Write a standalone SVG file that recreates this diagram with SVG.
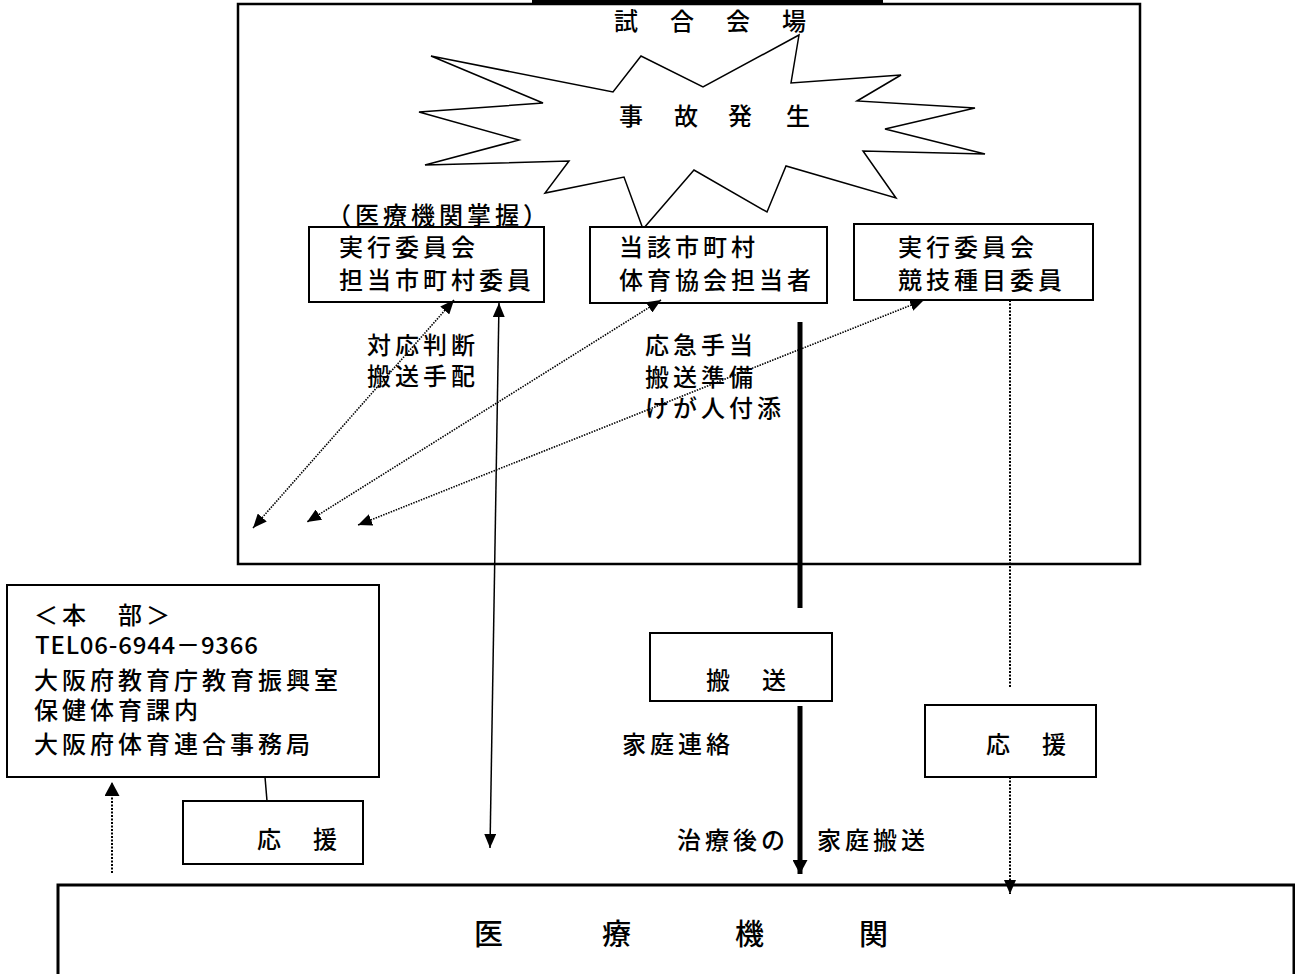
<svg xmlns="http://www.w3.org/2000/svg" width="1295" height="974" viewBox="0 0 1295 974">
<style>
.t{font-family:"Noto Sans CJK JP","Noto Sans",sans-serif;font-size:24px;font-weight:500;letter-spacing:4px;fill:#000}
.t0{font-family:"Noto Sans CJK JP","Noto Sans",sans-serif;font-size:24px;font-weight:500;fill:#000}
.box{fill:#fff;stroke:#000;stroke-width:2}
.dot{fill:none;stroke:#000;stroke-width:1.6;stroke-dasharray:1.5 1.2}
.dotv{fill:none;stroke:#000;stroke-width:2;stroke-dasharray:2 1.5}
</style>
<defs>
<marker id="ah" viewBox="0 0 14 12" refX="14" refY="6" markerWidth="14" markerHeight="12" markerUnits="userSpaceOnUse" orient="auto-start-reverse">
<path d="M0,0 L14,6 L0,12 z" fill="#000"/>
</marker>
<marker id="ahb" viewBox="0 0 14 15" refX="14" refY="7.5" markerWidth="14" markerHeight="15" markerUnits="userSpaceOnUse" orient="auto">
<path d="M0,0 L14,7.5 L0,15 z" fill="#000"/>
</marker>
</defs>
<rect width="1295" height="974" fill="#fff"/>

<g id="venue">
<rect x="238" y="4" width="902" height="560" fill="none" stroke="#000" stroke-width="2.5"/>
<rect x="532" y="0" width="351" height="4" fill="#000"/>
<text class="t0" x="614 670 726 782" y="30">試合会場</text>
</g>

<g id="accident">
<polygon points="799,35 791,83 901,75 857,101 975,108 885,129 985,154 863,151 896,198 786,166 767,212 694,170 643,229 624,177 545,193 569,161 425,165 519,140 419,112 543,103 431,56 613,92 641,56 703,87" fill="#fff" stroke="#000" stroke-width="1.5" stroke-linejoin="miter"/>
<text class="t0" x="619 674 728 786" y="125">事故発生</text>
</g>

<g id="committee-city">
<text class="t" x="327" y="224">（医療機関掌握）</text>
<rect class="box" x="309" y="227" width="235" height="75"/>
<text class="t" x="339" y="256">実行委員会</text>
<text class="t" x="339" y="289">担当市町村委員</text>
</g>

<g id="city-association">
<rect class="box" x="590" y="227" width="237" height="76"/>
<text class="t" x="619" y="256">当該市町村</text>
<text class="t" x="619" y="289">体育協会担当者</text>
</g>

<g id="committee-sport">
<rect class="box" x="854" y="224" width="239" height="76"/>
<text class="t" x="898" y="256">実行委員会</text>
<text class="t" x="898" y="289">競技種目委員</text>
</g>

<g id="labels">
<text class="t" x="367" y="354">対応判断</text>
<text class="t" x="367" y="385">搬送手配</text>
<text class="t" x="645" y="354">応急手当</text>
<text class="t" x="645" y="386">搬送準備</text>
<text class="t" x="645" y="417">けが人付添</text>
<text class="t" x="622" y="753">家庭連絡</text>
<text class="t" x="677" y="849">治療後の</text>
<text class="t" x="817" y="849">家庭搬送</text>
</g>

<g id="headquarters">
<rect class="box" x="7" y="585" width="372" height="192"/>
<text class="t" x="34" y="624">＜本　部＞</text>
<text class="t0" x="35" y="654" textLength="223" lengthAdjust="spacing">TEL06-6944－9366</text>
<text class="t" x="34" y="689">大阪府教育庁教育振興室</text>
<text class="t" x="34" y="719">保健体育課内</text>
<text class="t" x="34" y="753">大阪府体育連合事務局</text>
</g>

<g id="support-left">
<rect class="box" x="183" y="801" width="180" height="63"/>
<text class="t" x="257" y="848">応　援</text>
</g>

<g id="transport">
<rect class="box" x="650" y="633" width="182" height="68"/>
<text class="t" x="706" y="689">搬　送</text>
</g>

<g id="support-right">
<rect class="box" x="925" y="705" width="171" height="72"/>
<text class="t" x="986" y="753">応　援</text>
</g>

<g id="hospital">
<rect x="58" y="885" width="1236" height="120" fill="#fff" stroke="#000" stroke-width="3"/>
<text font-family="Noto Sans CJK JP, sans-serif" font-weight="500" font-size="29" x="474 602 735 859" y="945">医療機関</text>
</g>

<g id="connectors">
<line class="dot" x1="454" y1="300" x2="253" y2="528" marker-start="url(#ah)" marker-end="url(#ah)"/>
<line class="dot" x1="661" y1="300" x2="307" y2="522" marker-start="url(#ah)" marker-end="url(#ah)"/>
<line class="dot" x1="924" y1="300" x2="358" y2="525" marker-start="url(#ah)" marker-end="url(#ah)"/>
<line x1="499" y1="303" x2="490" y2="848" stroke="#000" stroke-width="1.5" marker-start="url(#ah)" marker-end="url(#ah)"/>
<line x1="800" y1="322" x2="800" y2="608" stroke="#000" stroke-width="5"/>
<line x1="800" y1="706" x2="800" y2="874" stroke="#000" stroke-width="5" marker-end="url(#ahb)"/>
<line class="dotv" x1="1010" y1="300" x2="1010" y2="688"/>
<line class="dotv" x1="1010" y1="777" x2="1010" y2="894" marker-end="url(#ah)"/>
<line x1="265" y1="777" x2="267" y2="801" stroke="#000" stroke-width="1.5"/>
<line class="dotv" x1="112" y1="873" x2="112" y2="782" marker-end="url(#ahb)"/>
</g>
</svg>
